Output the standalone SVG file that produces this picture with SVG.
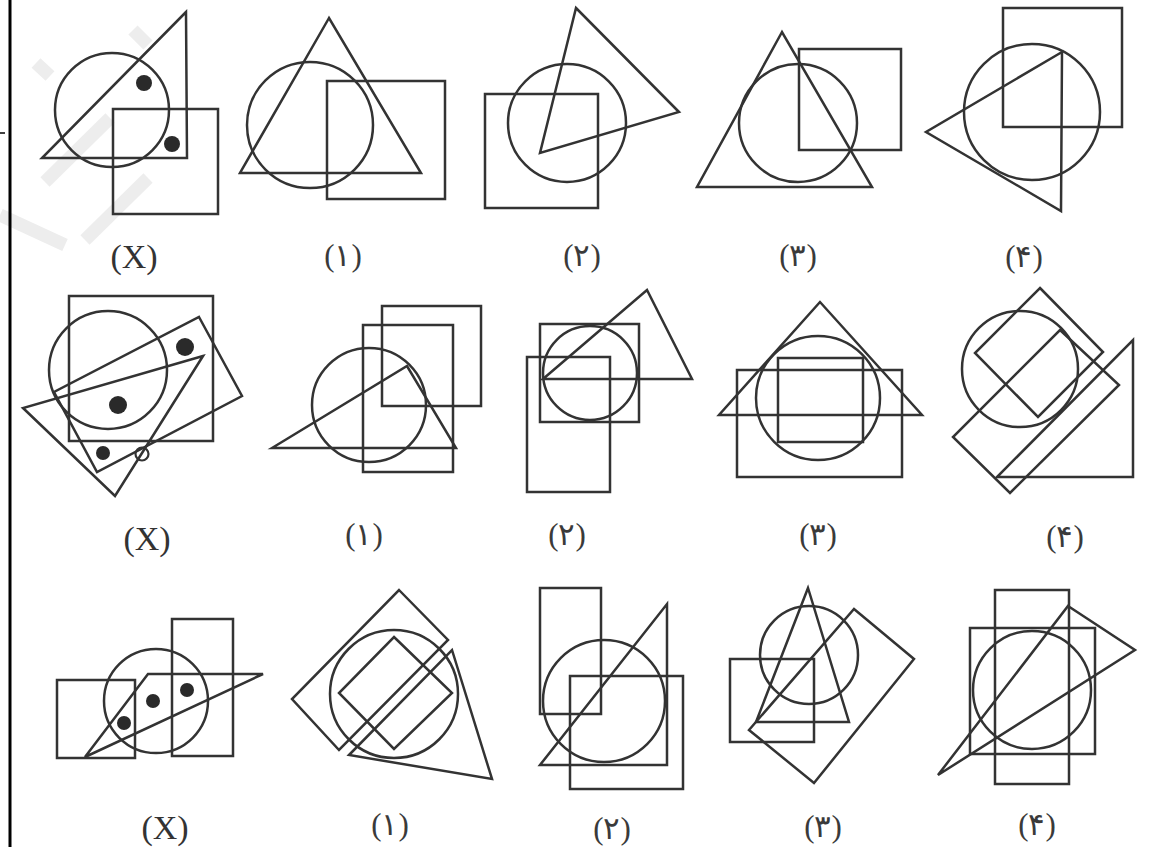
<svg xmlns="http://www.w3.org/2000/svg" width="1152" height="847" viewBox="0 0 1152 847">
<style>
.s{fill:none;stroke:#333;stroke-width:2.5;stroke-linejoin:miter}
.d{fill:#2a2a2a}
.o{fill:none;stroke:#333;stroke-width:2.2}
.w{fill:none;stroke:#ededed;stroke-width:13;stroke-linecap:butt}
.lx{font-family:"Liberation Serif",serif;font-size:34px;fill:#333;text-anchor:middle}
.ln{font-family:"Liberation Serif","DejaVu Sans",sans-serif;font-size:31px;fill:#3a3a3a;text-anchor:middle;font-weight:300}
</style>
<rect width="1152" height="847" fill="#fff"/>
<g id="watermark">
<line class="w" x1="36" y1="63" x2="50" y2="76"/>
<line class="w" x1="45" y1="182" x2="110" y2="118"/>
<line class="w" x1="85" y1="240" x2="148" y2="178"/>
<line class="w" x1="0" y1="215" x2="65" y2="245"/>
<line class="w" x1="133" y1="30" x2="148" y2="45"/>
</g>
<g id="border">
<line x1="10" y1="0" x2="10" y2="847" stroke="#000" stroke-width="3"/>
<line x1="0" y1="133" x2="5" y2="133" stroke="#000" stroke-width="1.5"/>
</g>
<!-- Row 1 -->
<g id="r1x">
<polygon class="s" points="186,12 42,158 187,158"/>
<circle class="s" cx="112" cy="110" r="57"/>
<rect class="s" x="113" y="109" width="105" height="105"/>
<circle class="d" cx="144" cy="83" r="8"/>
<circle class="d" cx="172" cy="144" r="8"/>
<text class="lx" x="134" y="268">(X)</text>
</g>
<g id="r1a1">
<polygon class="s" points="329,18 240,173 421,173"/>
<circle class="s" cx="310" cy="125" r="63"/>
<rect class="s" x="327" y="81" width="118" height="118"/>
<text class="ln" x="343" y="266">(۱)</text>
</g>
<g id="r1a2">
<rect class="s" x="485" y="94" width="113" height="114"/>
<circle class="s" cx="567" cy="123" r="59"/>
<polygon class="s" points="576,8 679,112 540,153"/>
<text class="ln" x="582" y="266">(۲)</text>
</g>
<g id="r1a3">
<polygon class="s" points="782,32 697,187 872,187"/>
<circle class="s" cx="798" cy="123" r="59"/>
<rect class="s" x="799" y="49" width="102" height="101"/>
<text class="ln" x="798" y="266">(۳)</text>
</g>
<g id="r1a4">
<rect class="s" x="1003" y="8" width="119" height="119"/>
<circle class="s" cx="1032" cy="112" r="68"/>
<polygon class="s" points="1062,52 926,132 1061,211"/>
<text class="ln" x="1024" y="267">(۴)</text>
</g>
<!-- Row 2 -->
<g id="r2x">
<rect class="s" x="69" y="296" width="144" height="145"/>
<circle class="s" cx="108" cy="370" r="59"/>
<polygon class="s" points="199,317 242,396 97,472 54,392"/>
<polygon class="s" points="203,356 23,408 115,496"/>
<circle class="d" cx="185" cy="347" r="9"/>
<circle class="d" cx="118" cy="405" r="9"/>
<circle class="d" cx="103" cy="453" r="7"/>
<circle class="o" cx="142" cy="454" r="6.5"/>
<text class="lx" x="147" y="550">(X)</text>
</g>
<g id="r2a1">
<rect class="s" x="382" y="306" width="99" height="100"/>
<rect class="s" x="363" y="325" width="90" height="147"/>
<circle class="s" cx="369" cy="405" r="57"/>
<polygon class="s" points="272,448 407,366 456,448"/>
<text class="ln" x="364" y="545">(۱)</text>
</g>
<g id="r2a2">
<rect class="s" x="540" y="324" width="99" height="98"/>
<rect class="s" x="527" y="357" width="83" height="135"/>
<circle class="s" cx="590" cy="373" r="47"/>
<polygon class="s" points="543,379 647,290 692,379"/>
<text class="ln" x="567" y="545">(۲)</text>
</g>
<g id="r2a3">
<polygon class="s" points="820,302 719,415 922,415"/>
<rect class="s" x="737" y="370" width="165" height="107"/>
<rect class="s" x="778" y="358" width="85" height="84"/>
<circle class="s" cx="818" cy="398" r="62"/>
<text class="ln" x="818" y="545">(۳)</text>
</g>
<g id="r2a4">
<circle class="s" cx="1020" cy="369" r="58"/>
<polygon class="s" points="1040,288 1103,352 1038,417 975,353"/>
<polygon class="s" points="1060,330 1119,385 1010,493 953,437"/>
<polygon class="s" points="1133,340 1133,477 997,477"/>
<text class="ln" x="1065" y="547">(۴)</text>
</g>
<!-- Row 3 -->
<g id="r3x">
<rect class="s" x="57" y="680" width="78" height="78"/>
<rect class="s" x="172" y="619" width="61" height="137"/>
<circle class="s" cx="156" cy="701" r="52"/>
<polygon class="s" points="85,757 148,674 263,674"/>
<circle class="d" cx="124" cy="723" r="7"/>
<circle class="d" cx="153" cy="701" r="7"/>
<circle class="d" cx="187" cy="690" r="7"/>
<text class="lx" x="165" y="839">(X)</text>
</g>
<g id="r3a1">
<polygon class="s" points="399,590 448,640 339,750 292,699"/>
<circle class="s" cx="394" cy="694" r="64"/>
<polygon class="s" points="394,637 452,693 394,749 339,693"/>
<polygon class="s" points="452,650 492,779 349,755"/>
<text class="ln" x="390" y="835">(۱)</text>
</g>
<g id="r3a2">
<rect class="s" x="540" y="588" width="61" height="126"/>
<rect class="s" x="570" y="676" width="113" height="113"/>
<circle class="s" cx="604" cy="701" r="61"/>
<polygon class="s" points="540,765 667,604 667,765"/>
<text class="ln" x="612" y="839">(۲)</text>
</g>
<g id="r3a3">
<circle class="s" cx="809" cy="655" r="49"/>
<polygon class="s" points="808,588 756,722 849,722"/>
<rect class="s" x="730" y="659" width="84" height="83"/>
<polygon class="s" points="854,609 914,659 814,783 749,730"/>
<text class="ln" x="823" y="837">(۳)</text>
</g>
<g id="r3a4">
<rect class="s" x="995" y="590" width="74" height="194"/>
<rect class="s" x="970" y="628" width="125" height="126"/>
<circle class="s" cx="1032" cy="690" r="59"/>
<polygon class="s" points="1068,606 1135,650 938,775"/>
<text class="ln" x="1037" y="835">(۴)</text>
</g>
</svg>
